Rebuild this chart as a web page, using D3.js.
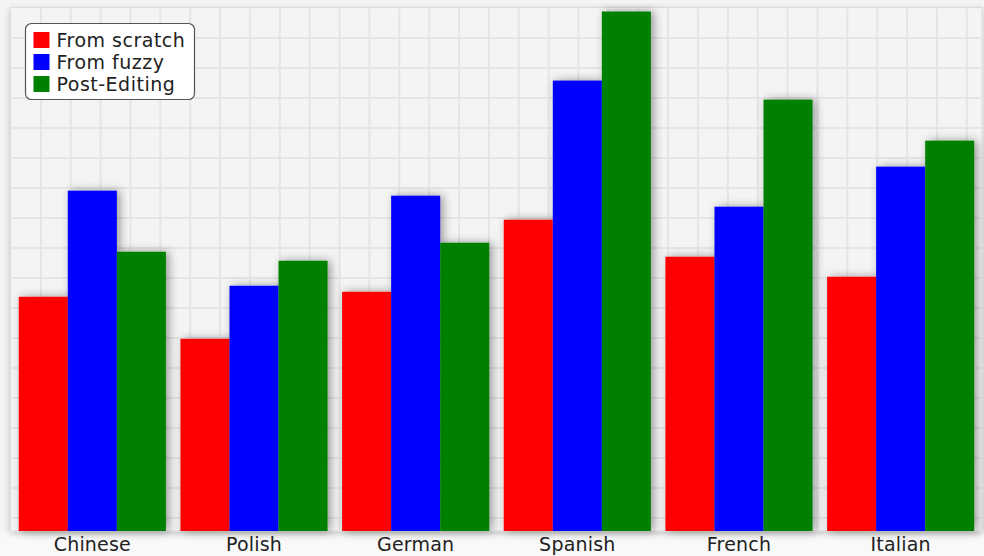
<!DOCTYPE html>
<html>
<head>
<meta charset="utf-8">
<script src="https://cdn.jsdelivr.net/npm/d3@7"></script>
<style>
  html, body { margin: 0; padding: 0; background: #f6f6f6; }
  svg { display: block; }
  text { font-family: "DejaVu Sans", Verdana, sans-serif; }
</style>
</head>
<body>
<svg id="chart" width="984" height="556"></svg>
<script>
const categories = ["Chinese", "Polish", "German", "Spanish", "French", "Italian"];
const seriesNames = ["From scratch", "From fuzzy", "Post-Editing"];
const seriesColors = ["#ff0000", "#0000ff", "#008000"];
const fromScratch = [234, 192, 239, 311, 274, 254];
const fromFuzzy   = [340, 245, 335, 450, 324, 364];
const postEditing = [279, 270, 288, 519, 431, 390];
const seriesValues = [fromScratch, fromFuzzy, postEditing];
const yMax = 523;

const W = 984, H = 556;
const plot = { left: 10.5, right: 982, top: 7.5, bottom: 531 };

const svg = d3.select("#chart");
const defs = svg.append("defs");

const fPlot = defs.append("filter").attr("id", "plotShadow")
  .attr("x", "-5%").attr("y", "-5%").attr("width", "110%").attr("height", "115%");
fPlot.append("feDropShadow").attr("dx", 0).attr("dy", 2).attr("stdDeviation", 3)
  .attr("flood-color", "#000").attr("flood-opacity", 0.22);

const fBar = defs.append("filter").attr("id", "barShadow")
  .attr("x", "-30%").attr("y", "-10%").attr("width", "160%").attr("height", "120%");
fBar.append("feDropShadow").attr("dx", 3).attr("dy", 0).attr("stdDeviation", 5)
  .attr("flood-color", "#000").attr("flood-opacity", 0.38);

const fGrid = defs.append("filter").attr("id", "gridBlur");
fGrid.append("feGaussianBlur").attr("stdDeviation", 0.5);

svg.append("rect").attr("x", 0).attr("y", 0).attr("width", W).attr("height", H).attr("fill", "#f4f4f4");
svg.append("rect").attr("x", 0).attr("y", plot.bottom).attr("width", W).attr("height", H - plot.bottom).attr("fill", "#f9f9f9");

// plot area
svg.append("rect")
  .attr("x", plot.left).attr("y", plot.top)
  .attr("width", plot.right - plot.left).attr("height", plot.bottom - plot.top)
  .attr("fill", "#f4f4f4")
  .attr("stroke", "#dcdcdc").attr("stroke-width", 1)
  .attr("filter", "url(#plotShadow)");

const x0 = d3.scaleBand().domain(categories)
  .range([plot.left + 1, plot.right - 0.5])
  .paddingInner(0.09).paddingOuter(0.045);
const x1 = d3.scaleBand().domain(seriesNames).range([0, x0.bandwidth()]);
const y = d3.scaleLinear().domain([0, yMax]).range([plot.bottom, plot.top]);

// grid
const gridG = svg.append("g").attr("filter", "url(#gridBlur)");
const gx = d3.range(plot.left + 0.5 + 29.87, plot.right - 2, 29.87);
const gy = d3.range(plot.top + 30.5, plot.bottom - 5, 30);
gridG.selectAll("line.v").data(gx).join("line")
  .attr("x1", d => d).attr("x2", d => d)
  .attr("y1", plot.top + 1).attr("y2", plot.bottom)
  .attr("stroke", "#e5e5e5").attr("stroke-width", 2);
gridG.selectAll("line.h").data(gy).join("line")
  .attr("x1", plot.left + 1).attr("x2", plot.right)
  .attr("y1", d => d).attr("y2", d => d)
  .attr("stroke", "#e5e5e5").attr("stroke-width", 2);

// bars
const groups = svg.append("g").selectAll("g").data(categories).join("g")
  .attr("transform", d => `translate(${x0(d)},0)`)
  .attr("filter", "url(#barShadow)");
groups.selectAll("rect")
  .data((c, ci) => seriesNames.map((s, si) => ({ s, si, v: seriesValues[si][ci] })))
  .join("rect")
  .attr("x", d => x1(d.s))
  .attr("width", x1.bandwidth())
  .attr("y", d => y(d.v))
  .attr("height", d => y(0) - y(d.v))
  .attr("fill", d => seriesColors[d.si]);

// x axis labels
const xAxis = d3.axisBottom(x0).tickSize(0).tickPadding(0);
const axG = svg.append("g").attr("transform", `translate(0,${plot.bottom})`).call(xAxis);
axG.select(".domain").remove();
axG.selectAll("text")
  .attr("y", 20).attr("dy", 0)
  .attr("font-size", 19)
  .attr("letter-spacing", 0.2)
  .attr("font-family", "'DejaVu Sans', Verdana, sans-serif")
  .attr("fill", "#222");

// legend
const lg = svg.append("g").attr("transform", "translate(25.5,23.5)");
lg.append("rect").attr("width", 169).attr("height", 76).attr("rx", 6)
  .attr("fill", "#ffffff").attr("stroke", "#555").attr("stroke-width", 1.2);
const items = lg.selectAll("g.item").data(seriesNames).join("g")
  .attr("transform", (d, i) => `translate(0,${i * 22})`);
items.append("rect").attr("x", 8).attr("y", 8.5).attr("width", 16).attr("height", 16)
  .attr("fill", (d, i) => seriesColors[i]);
items.append("text").attr("x", 31).attr("y", 23)
  .attr("font-size", 19).attr("letter-spacing", 0.5).attr("fill", "#222").text(d => d);
</script>
</body>
</html>
